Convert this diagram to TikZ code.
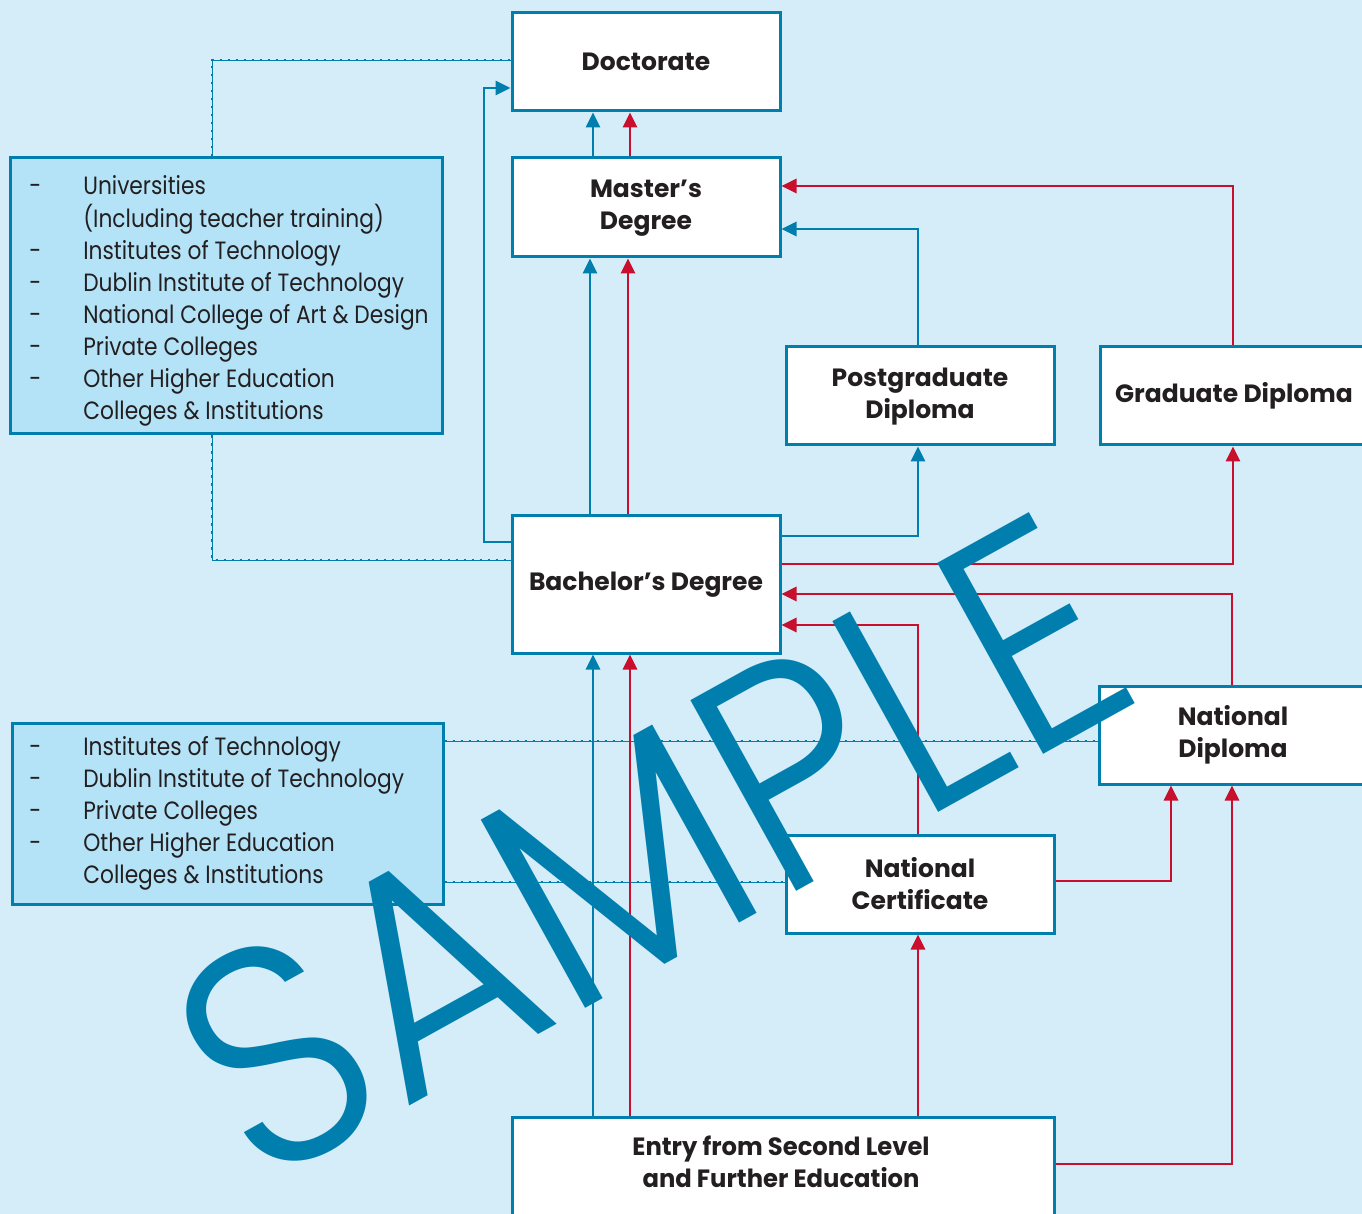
\documentclass[tikz,border=0pt]{standalone}
\usepackage{fontspec}
\setmainfont{Poppins}
\newfontfamily\wmfont{Poppins Light}
\usetikzlibrary{arrows.meta}
\definecolor{bg}{RGB}{213,236,249}
\definecolor{listfill}{RGB}{180,227,247}
\definecolor{cblue}{RGB}{0,127,175}
\definecolor{cred}{RGB}{200,16,46}
\definecolor{ink}{RGB}{35,31,32}
\begin{document}
\begin{tikzpicture}[x=0.5pt,y=-0.5pt,
  box/.style={draw=cblue, line width=1.5pt, fill=white, inner sep=0pt,
    minimum width=134pt, minimum height=49pt, align=center, text=ink,
    font=\bfseries\fontsize{12.5}{16}\selectfont},
  listbox/.style={draw=cblue, line width=1.5pt, fill=listfill, inner sep=0pt},
  listtext/.style={anchor=west, inner sep=0pt, text=ink, font=\fontsize{12.5}{16}\selectfont},
  link/.style={line width=1.4pt, -{Triangle[length=7.5pt,width=7pt]}},
  blink/.style={link, draw=cblue},
  rlink/.style={link, draw=cred},
  dotlink/.style={draw=cblue, line width=0.4pt,
    postaction={draw=cblue, line width=1.4pt, dash pattern=on 1.4pt off 2.6pt}},
  wm/.style={rotate=29, text=cblue, inner sep=0pt, font=\wmfont\fontsize{156}{160}\selectfont}
]
\fill[bg] (0,0) rectangle (1362,1214);
\useasboundingbox (0,0) rectangle (1362,1214);
\clip (0,0) rectangle (1362,1214);

% boxes
\node[box] (doc) at (646,62) {Doctorate};
\node[box, minimum height=49.5pt] (ms) at (646,207.5) {\raisebox{-2.5pt}{\begin{tabular}{@{}c@{}}Master’s\\Degree\end{tabular}}};
\node[box] (pg) at (920,396) {\raisebox{-3pt}{\begin{tabular}{@{}c@{}}Postgraduate\\Diploma\end{tabular}}};
\node[box] (gd) at (1234,396) {Graduate Diploma};
\node[box, minimum height=68.5pt] (ba) at (646,584.5) {Bachelor’s Degree};
\node[box] (nd) at (1233,735) {\raisebox{-2pt}{\begin{tabular}{@{}c@{}}National\\Diploma\end{tabular}}};
\node[box] (nc) at (920,884) {National\\Certificate};
\node[box, minimum width=271pt, minimum height=100pt] (en) at (783,1217) {};
\node[inner sep=0pt, text=ink, font=\bfseries\fontsize{12.5}{16}\selectfont] (ent) at (781,1165)
  {\scalebox{0.97}[1]{\begin{tabular}{@{}c@{}}Entry from Second Level\\and Further Education\end{tabular}}};

% lists
\node[listbox, minimum width=216pt, minimum height=138pt] (l1) at (226,296) {};
\node[listtext] (l1t) at (29,301) {\scalebox{0.87}[1]{\begin{tabular}{@{}p{31pt}@{}l@{}}
-& Universities\\
 & (Including teacher training)\\
-& Institutes of Technology\\
-& Dublin Institute of Technology\\
-& National College of Art \& Design\\
-& Private Colleges\\
-& Other Higher Education\\
 & Colleges \& Institutions
\end{tabular}}};
\node[listbox, minimum width=215.5pt, minimum height=90.5pt] (l2) at (227.5,813.5) {};
\node[listtext] (l2t) at (29,813) {\scalebox{0.87}[1]{\begin{tabular}{@{}p{31pt}@{}l@{}}
-& Institutes of Technology\\
-& Dublin Institute of Technology\\
-& Private Colleges\\
-& Other Higher Education\\
 & Colleges \& Institutions
\end{tabular}}};

% dotted links
\draw[dotlink] (212,0 |- l1.north) |- (doc.west |- 0,60);
\draw[dotlink] (212,0 |- l1.south) |- (ba.west |- 0,560);
\draw[dotlink] (l2.east |- 0,741) -- (nd.west |- 0,741);
\draw[dotlink] (l2.east |- 0,882) -- (nc.west |- 0,882);

% arrows
\draw[blink] (593,0 |- ms.north) -- (593,0 |- doc.south);
\draw[rlink] (630,0 |- ms.north) -- (630,0 |- doc.south);
\draw[blink] (590,0 |- ba.north) -- (590,0 |- ms.south);
\draw[rlink] (628,0 |- ba.north) -- (628,0 |- ms.south);
\draw[blink] (ba.west |- 0,542) -| (484,88) -- (doc.west |- 0,88);
\draw[blink] (ba.east |- 0,536) -| (918,0 |- pg.south);
\draw[blink] (918,0 |- pg.north) |- (ms.east |- 0,229);
\draw[rlink] (1233,0 |- gd.north) |- (ms.east |- 0,186);
\draw[rlink] (ba.east |- 0,564) -| (1233,0 |- gd.south);
\draw[rlink] (1232,0 |- nd.north) |- (ba.east |- 0,594);
\draw[rlink] (918,0 |- nc.north) |- (ba.east |- 0,625);
\draw[rlink] (nc.east |- 0,881) -| (1171,0 |- nd.south);
\draw[rlink] (en.east |- 0,1164) -| (1232,0 |- nd.south);
\draw[rlink] (918,0 |- en.north) -- (918,0 |- nc.south);
\draw[blink] (593,0 |- en.north) -- (593,0 |- ba.south);
\draw[rlink] (630,0 |- en.north) -- (630,0 |- ba.south);

% watermark
\node[wm] (wmk) at (651,847) {\scalebox{0.92}[1]{SAMPLE}};
\end{tikzpicture}
\end{document}
